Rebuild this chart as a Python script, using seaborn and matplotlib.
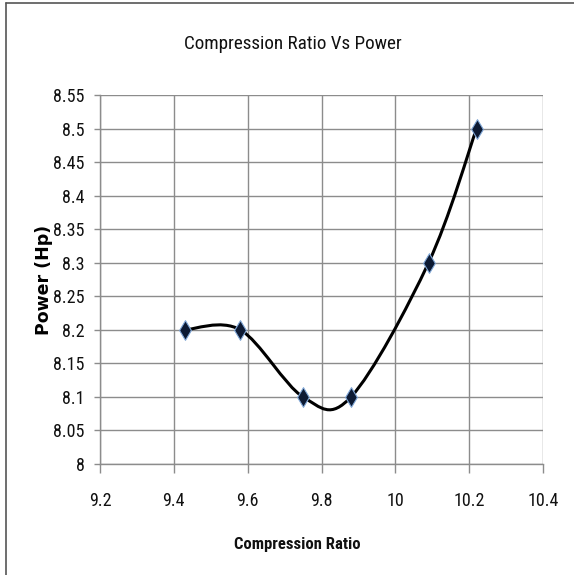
import numpy as np
import pandas as pd
import matplotlib
matplotlib.use("Agg")
import matplotlib.pyplot as plt
import seaborn as sns
from matplotlib.path import Path
from matplotlib.patches import PathPatch
from matplotlib.lines import Line2D
from matplotlib.ticker import FuncFormatter, MultipleLocator

compression_ratio = [9.43, 9.58, 9.75, 9.88, 10.09, 10.22]
power_hp = [8.2, 8.2, 8.1, 8.1, 8.3, 8.5]
title = "Compression Ratio Vs Power"
x_label = "Compression Ratio"
y_label = "Power (Hp)"

sns.set_theme(style="white")
plt.rcParams['font.family'] = ['Roboto Condensed', 'Roboto', 'DejaVu Sans']

df = pd.DataFrame({"x": compression_ratio, "y": power_hp})

W, H = 574, 575
fig = plt.figure(figsize=(W / 100, H / 100), dpi=100)
ax = fig.add_axes([100 / W, 1 - 464 / H, 443 / W, 369 / H])

# Excel-style smoothed line (cubic Bezier through the data points)
xs = np.array(compression_ratio)
ys = np.array(power_hp)
n = len(xs)
verts = [(xs[0], ys[0])]
codes = [Path.MOVETO]
for i in range(n - 1):
    xm, ym = (xs[i-1], ys[i-1]) if i > 0 else (xs[i], ys[i])
    xp, yp = (xs[i+2], ys[i+2]) if i + 2 < n else (xs[i+1], ys[i+1])
    c1 = (xs[i] + (xs[i+1] - xm) / 6, ys[i] + (ys[i+1] - ym) / 6)
    c2 = (xs[i+1] - (xp - xs[i]) / 6, ys[i+1] - (yp - ys[i]) / 6)
    verts += [c1, c2, (xs[i+1], ys[i+1])]
    codes += [Path.CURVE4] * 3
ax.add_patch(PathPatch(Path(verts, codes), facecolor="none", edgecolor="black",
                       lw=2.2, zorder=3, capstyle="round", joinstyle="round"))

sns.scatterplot(data=df, x="x", y="y", ax=ax, marker="d", s=100,
                color="#0d1a33", edgecolor="#7fa6d6", linewidth=0.8, zorder=4,
                legend=False)

ax.set_xlim(9.2, 10.4)
ax.set_ylim(8.0, 8.55)
ax.xaxis.set_major_locator(MultipleLocator(0.2))
ax.yaxis.set_major_locator(MultipleLocator(0.05))
fmt = FuncFormatter(lambda v, p: f"{v:.2f}".rstrip("0").rstrip("."))
ax.xaxis.set_major_formatter(fmt)
ax.yaxis.set_major_formatter(fmt)

ax.grid(True, color="#8c8c8c", lw=1.0)
ax.set_axisbelow(True)
for side in ["top", "right"]:
    ax.spines[side].set_visible(False)
for side in ["left", "bottom"]:
    ax.spines[side].set_color("#8c8c8c")
    ax.spines[side].set_linewidth(1.0)
ax.tick_params(axis="both", which="major", direction="out", width=1.0,
               color="#8c8c8c", labelsize=13, labelcolor="#111111",
               bottom=True, left=True)
ax.tick_params(axis="x", length=6.5, pad=14)
ax.tick_params(axis="y", length=4, pad=7)

ax.set_xlabel(x_label, fontsize=12, fontweight="bold", color="#111111")
ax.xaxis.set_label_coords((297 - 100) / 443, (464 - 545) / 369)
ax.xaxis.label.set_va("center")
ax.set_ylabel(y_label, fontsize=12.5, fontweight="bold", family=["DejaVu Sans"],
              color="#000000")
ax.yaxis.set_label_coords((44 - 100) / 443, (464 - 280) / 369)
ax.yaxis.label.set_va("center")

fig.text(292.5 / W, 1 - 44 / H, title, ha="center", va="center",
         fontsize=13.75, color="#111111")

# outer frame lines (left and top)
fig.add_artist(Line2D([6 / W, 6 / W], [0, 1 - 3 / H], color="#555555", lw=1.2,
                      transform=fig.transFigure))
fig.add_artist(Line2D([6 / W, 1], [1 - 3 / H, 1 - 3 / H], color="#555555", lw=1.2,
                      transform=fig.transFigure))

fig.savefig("out.png", dpi=100, facecolor="white")
